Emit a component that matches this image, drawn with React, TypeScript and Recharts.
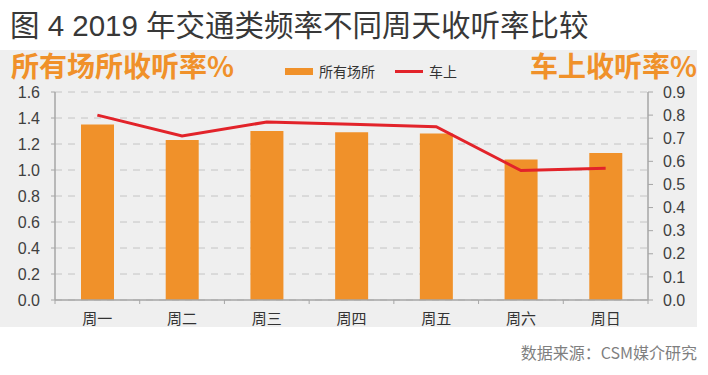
import { ComposedChart, Bar, Line, XAxis, YAxis, CartesianGrid, Legend } from 'recharts';

// 数据
const days = ['周一', '周二', '周三', '周四', '周五', '周六', '周日'];
const allPlaces = [1.35, 1.23, 1.3, 1.29, 1.28, 1.08, 1.13];
const inCar = [0.8, 0.71, 0.77, 0.76, 0.75, 0.56, 0.57];
const leftTicks = [0, 0.2, 0.4, 0.6, 0.8, 1.0, 1.2, 1.4, 1.6];
const rightTicks = [0, 0.1, 0.2, 0.3, 0.4, 0.5, 0.6, 0.7, 0.8, 0.9];

const W = 708;
const H = 375;
const LEFT_W = 55;
const RIGHT_W = 60;
const BAND = (W - LEFT_W - RIGHT_W) / days.length;

const ORANGE = '#f0912a';
const RED = '#e2232a';
const AXIS = '#a6a6a6';
const FONT = '"Liberation Sans", Arial, "Noto Sans CJK SC", sans-serif';
const CJK = '"Noto Sans CJK SC", "Liberation Sans", sans-serif';

const chartData = days.map((d, i) => ({ name: d, all: allPlaces[i], car: inCar[i] }));

const DayTick = (props: any) => {
  const { x, y, payload, index } = props;
  const axisY = y - 13;
  const left = x - BAND / 2;
  return (
    <g>
      <line x1={left} y1={axisY} x2={left} y2={axisY + 4} stroke={AXIS} />
      {index === days.length - 1 && (
        <line x1={x + BAND / 2} y1={axisY} x2={x + BAND / 2} y2={axisY + 4} stroke={AXIS} />
      )}
      <text x={x} y={y} dy="0.71em" textAnchor="middle" fontSize={15} fill="#333" fontFamily={CJK}>
        {payload.value}
      </text>
    </g>
  );
};

const renderLegend = ({ payload }: any) => (
  <div style={{ display: 'flex', alignItems: 'center', fontSize: 14, color: '#333', fontFamily: CJK }}>
    {(payload || []).map((item: any) => (
      <div key={item.value} style={{ display: 'flex', alignItems: 'center', marginRight: 20 }}>
        <span
          style={{
            display: 'inline-block',
            width: 28,
            height: item.type === 'rect' ? 7 : 3,
            background: item.color,
            marginRight: 6,
          }}
        />
        {item.value}
      </div>
    ))}
  </div>
);

const App = () => {
  return (
    <div style={{ position: 'absolute', left: 0, top: 0, width: W, height: H, background: '#fff', overflow: 'hidden' }}>
      <div
        style={{
          position: 'absolute',
          left: 10,
          top: 2,
          fontSize: 29.5,
          color: '#383838',
          fontFamily: FONT,
          whiteSpace: 'nowrap',
        }}
      >
        图 4 2019 年交通类频率不同周天收听率比较
      </div>

      <div style={{ position: 'absolute', left: 0, top: 50, width: 697, height: 277, background: '#efefef' }} />

      <div
        style={{
          position: 'absolute',
          left: 11,
          top: 45,
          fontSize: 28,
          fontWeight: 'bold',
          color: ORANGE,
          fontFamily: CJK,
          whiteSpace: 'nowrap',
        }}
      >
        所有场所收听率%
      </div>
      <div
        style={{
          position: 'absolute',
          right: 11,
          top: 45,
          fontSize: 28,
          fontWeight: 'bold',
          color: ORANGE,
          fontFamily: CJK,
          whiteSpace: 'nowrap',
        }}
      >
        车上收听率%
      </div>

      <div style={{ position: 'absolute', left: 0, top: 0 }}>
        <ComposedChart width={W} height={H} data={chartData} margin={{ top: 92, right: 0, bottom: 45, left: 0 }}>
          <CartesianGrid yAxisId="left" vertical={false} stroke="#c4c4c4" strokeDasharray="7 6" />
          <XAxis
            dataKey="name"
            height={30}
            axisLine={{ stroke: AXIS, strokeWidth: 1.5 }}
            tickLine={false}
            tickSize={4}
            tickMargin={9}
            tick={<DayTick />}
            interval={0}
          />
          <YAxis
            yAxisId="left"
            width={LEFT_W}
            domain={[0, 1.6]}
            ticks={leftTicks}
            tickFormatter={(v: number) => v.toFixed(1)}
            axisLine={{ stroke: AXIS, strokeWidth: 1.5 }}
            tickLine={{ stroke: AXIS }}
            tickSize={4}
            tickMargin={11}
            tick={{ fontSize: 16, fill: '#404040', fontFamily: FONT }}
          />
          <YAxis
            yAxisId="right"
            orientation="right"
            width={RIGHT_W}
            domain={[0, 0.9]}
            ticks={rightTicks}
            tickFormatter={(v: number) => v.toFixed(1)}
            axisLine={{ stroke: AXIS, strokeWidth: 1.5 }}
            tickLine={{ stroke: AXIS }}
            tickSize={5}
            tickMargin={10}
            tick={{ fontSize: 16, fill: '#404040', fontFamily: FONT }}
          />
          <Legend
            content={renderLegend}
            layout="vertical"
            align="center"
            verticalAlign="middle"
            wrapperStyle={{ top: 61, left: 285, width: 240 }}
          />
          <Bar
            yAxisId="left"
            dataKey="all"
            name="所有场所"
            fill={ORANGE}
            barSize={33}
            legendType="rect"
            isAnimationActive={false}
          />
          <Line
            yAxisId="right"
            dataKey="car"
            name="车上"
            stroke={RED}
            strokeWidth={3}
            dot={false}
            legendType="line"
            isAnimationActive={false}
          />
        </ComposedChart>
      </div>

      <div
        style={{
          position: 'absolute',
          right: 11,
          top: 340,
          fontSize: 16,
          color: '#7f7f7f',
          fontFamily: CJK,
          whiteSpace: 'nowrap',
        }}
      >
        数据来源：CSM媒介研究
      </div>
    </div>
  );
};

export default App;
